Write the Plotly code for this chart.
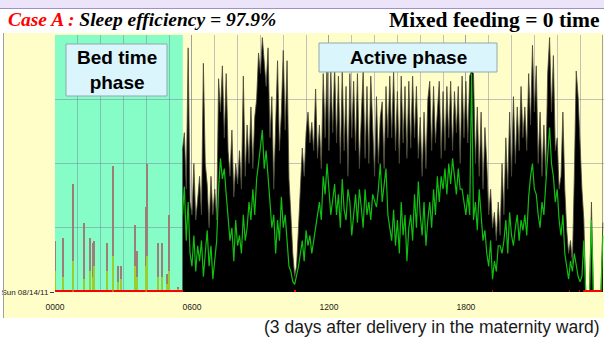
import plotly.graph_objects as go

# ---------------- data ----------------
start_hour = 5.583          # first epoch of the active recording (h)
epoch_min = 5               # epoch length (min)

black = [
    55, 62, 40, 95, 35, 30, 50, 28, 36, 45,
    30, 89, 50, 42, 25, 45, 30, 40, 28, 83,
    70, 88, 60, 85, 55, 45, 63, 37, 50, 42,
    55, 40, 84, 45, 65, 50, 72, 48, 68, 75,
    93, 85, 99, 90, 80, 95, 60, 76, 40, 65,
    90, 55, 70, 94, 63, 90, 44, 30, 15, 6,
    10, 25, 40, 56, 45, 62, 70, 58, 66, 55,
    79, 52, 65, 48, 85, 60, 89, 55, 86, 62,
    88, 58, 84, 50, 86, 55, 80, 45, 85, 60,
    82, 55, 85, 48, 68, 86, 52, 80, 50, 84,
    65, 45, 76, 50, 68, 74, 48, 80, 60, 84,
    60, 86, 55, 78, 50, 84, 58, 80, 52, 82,
    56, 84, 60, 80, 52, 68, 45, 70, 48, 75,
    82, 55, 80, 58, 70, 82, 52, 78, 55, 80,
    60, 82, 55, 78, 62, 80, 50, 84, 60, 82,
    58, 84, 86, 85, 50, 72, 45, 70, 40, 64,
    50, 30, 40, 25, 31, 20, 35, 22, 50, 30,
    60, 40, 70, 45, 76, 50, 72, 55, 80, 60,
    72, 55, 85, 65, 96, 70, 88, 50, 70, 45,
    65, 45, 85, 99, 70, 92, 55, 60, 40, 45,
    70, 40, 24, 15, 20, 11, 45, 86, 76, 54,
    40, 28, 0, 0, 0, 35, 0, 0, 0, 0,
    0, 27,
]

green = [
    30, 41, 20, 35, 15, 10, 22, 8, 18, 12,
    20, 6, 15, 24, 10, 18, 5, 14, 20, 40,
    52, 44, 48, 38, 30, 20, 25, 12, 28, 18,
    22, 15, 30, 20, 25, 35, 28, 40, 30, 44,
    50, 58, 63, 48, 55, 45, 35, 25, 30, 15,
    28, 20, 37, 25, 30, 18, 10, 8, 4, 3,
    6, 10, 15, 20, 12, 24, 18, 22, 15, 20,
    24, 30, 35, 28, 45, 38, 50, 40, 30, 36,
    42, 30, 38, 25, 44, 32, 28, 40, 35, 22,
    30, 38, 27, 40, 33, 25, 40, 30, 35, 28,
    38, 35, 33, 40, 50, 35, 42, 48, 30, 25,
    20, 32, 18, 28, 15, 35, 22, 30, 12, 25,
    30, 20, 38, 25, 43, 30, 22, 35, 18, 28,
    35, 25, 40, 30, 45, 35, 45, 40, 48, 38,
    50, 42, 52, 45, 38, 48, 40, 40, 35, 30,
    38, 30, 85, 28, 35, 24, 40, 30, 20, 24,
    15, 10, 20, 5, 12, 8, 18, 18, 15, 20,
    28, 15, 31, 22, 18, 25, 30, 20, 28, 24,
    30, 22, 37, 45, 50, 40, 38, 30, 25, 35,
    30, 42, 55, 64, 50, 45, 35, 40, 28, 22,
    30, 15, 10, 5, 12, 8, 15, 10, 6, 4,
    6, 20, 0, 0, 0, 28, 0, 0, 0, 0,
    0, 22,
]

# isolated movements during the bed-time phase
sleep_t = [0.02, 0.35, 0.79, 1.27, 1.53, 1.66, 1.71, 2.28, 2.54, 2.76,
           2.89, 3.50, 3.59, 3.99, 4.03, 4.51, 4.69, 4.91, 5.00, 5.39]
sleep_v = [20, 21, 42, 27, 21, 19, 20, 19, 49, 10,
           10, 26, 16, 33, 50, 19, 19, 7, 30, 2]
sleep_green = [8, 6, 12, 5, 8, 6, 10, 8, 14, 4,
               5, 10, 6, 10, 14, 6, 6, 3, 8, 1]

# scored sleep (red marks on the base line)
red_start = [0.00, 0.81, 2.56, 4.01, 10.47, 19.15, 22.51, 22.95, 23.14]
red_end = [0.77, 2.52, 3.97, 5.60, 10.56, 19.19, 22.55, 22.99, 23.95]

bed_phase = [0.0, 5.6]
tick_hours = [0, 6, 12, 18, 24]
tick_text = ["0000", "0600", "1200", "1800", "0000"]
y_label = "Sun 08/14/11"

# ---------------- figure ----------------
W, H = 604, 338
L, R, T, B = 55, 0, 35, 46
PW, PH = W - L - R, H - T - B


def px(x):
    return (x - L) / PW


def py(y):
    return (H - B - y) / PH


t_active = [start_hour + i * epoch_min / 60 for i in range(len(black))]

red_x, red_y = [], []
for s, e in zip(red_start, red_end):
    red_x += [s, e, None]
    red_y += [0, 0, None]

fig = go.Figure()
fig.add_trace(go.Bar(x=sleep_t, y=sleep_v, width=0.05,
                     marker=dict(color="#9b7f76", line_width=0)))
fig.add_trace(go.Bar(x=sleep_t, y=sleep_green, width=0.05,
                     marker=dict(color="#9ACD32", line_width=0)))
fig.add_trace(go.Scatter(x=t_active, y=black, mode="lines", fill="tozeroy",
                         fillcolor="black",
                         line=dict(color="#4a4836", width=0.8)))
fig.add_trace(go.Scatter(x=t_active, y=green, mode="lines",
                         line=dict(color="#12BE12", width=1.2)))
fig.add_trace(go.Scatter(x=red_x, y=red_y, mode="lines", cliponaxis=False,
                         line=dict(color="#FF0000", width=4)))

GRID = "rgba(120,120,160,0.45)"
NARROW = "Liberation Sans Narrow, Arial Narrow, Liberation Sans, sans-serif"
SANS = "Liberation Sans, Arial, sans-serif"
SERIF = "Liberation Serif, Times New Roman, serif"

shapes = [
    dict(type="rect", xref="paper", yref="paper", x0=px(3), x1=px(606),
         y0=py(318), y1=py(33), fillcolor="#FFFEC8", line_width=0, layer="below"),
    dict(type="rect", xref="x", yref="paper", x0=bed_phase[0], x1=bed_phase[1],
         y0=0, y1=1, fillcolor="#86FCC6", line_width=0, layer="below"),
    dict(type="line", xref="paper", yref="paper", x0=px(3.5), x1=px(3.5),
         y0=py(318), y1=py(33), line=dict(color="#a0a0a0", width=1)),
    dict(type="rect", xref="paper", yref="paper", x0=px(-2), x1=px(606),
         y0=py(8.5), y1=py(-2), fillcolor="#ECE4F8",
         line=dict(color="#A090C8", width=1)),
    dict(type="rect", xref="paper", yref="paper", x0=px(66), x1=px(167),
         y0=py(96), y1=py(44), fillcolor="#DAF5FC",
         line=dict(color="#8FAAB0", width=1), layer="above"),
    dict(type="rect", xref="paper", yref="paper", x0=px(319), x1=px(497),
         y0=py(72), y1=py(43), fillcolor="#DAF5FC",
         line=dict(color="#8FAAB0", width=1), layer="above"),
]

annotations = [
    dict(xref="paper", yref="paper", x=px(6), y=py(20), xanchor="left", yanchor="middle",
         showarrow=False,
         text="<b><i><span style='color:#FF0000'>Case A :</span> Sleep efficiency = 97.9%</i></b>",
         font=dict(family=SERIF, size=19.5, color="black")),
    dict(xref="paper", yref="paper", x=px(602), y=py(20), xanchor="right", yanchor="middle",
         showarrow=False, text="<b>Mixed feeding = 0 time</b>",
         font=dict(family=SERIF, size=21.5, color="black")),
    dict(xref="paper", yref="paper", x=px(116.5), y=py(70), xanchor="center", yanchor="middle",
         showarrow=False, text="<b>Bed time<br>phase</b>",
         font=dict(family=SANS, size=19, color="black")),
    dict(xref="paper", yref="paper", x=px(408), y=py(57.5), xanchor="center", yanchor="middle",
         showarrow=False, text="<b>Active phase</b>",
         font=dict(family=SANS, size=19, color="black")),
    dict(xref="paper", yref="paper", x=px(602), y=py(327), xanchor="right", yanchor="middle",
         showarrow=False, text="(3 days after delivery in the maternity ward)",
         font=dict(family=SANS, size=17.5, color="#1a1a1a")),
]

fig.update_layout(
    width=W, height=H,
    margin=dict(l=L, r=R, t=T, b=B, pad=0, autoexpand=False),
    paper_bgcolor="white", plot_bgcolor="#FFFEC8",
    showlegend=False, barmode="overlay", bargap=0,
    shapes=shapes, annotations=annotations,
    xaxis=dict(range=[0, 24.05], tickvals=tick_hours, ticktext=tick_text,
               showgrid=True, gridcolor=GRID, gridwidth=1, zeroline=False,
               showline=False, ticks="", ticklabelstandoff=8, automargin=False,
               tickfont=dict(family=NARROW, size=8.5, color="#222"),
               minor=dict(dtick=1, showgrid=True, gridcolor=GRID, gridwidth=1, ticks="")),
    yaxis=dict(range=[0, 100], tickvals=[0], ticktext=[y_label],
               showgrid=False, zeroline=False, showline=False, automargin=False,
               ticks="outside", ticklen=4, tickcolor="#444",
               tickfont=dict(family=NARROW, size=8, color="#222"),
               minor=dict(tickvals=[25, 50, 75, 100], showgrid=True,
                          gridcolor=GRID, gridwidth=1, ticks="")),
)

fig.write_html("out.html", config={"displayModeBar": False},
               post_script="document.body.style.margin='0';document.body.style.overflow='hidden';")
